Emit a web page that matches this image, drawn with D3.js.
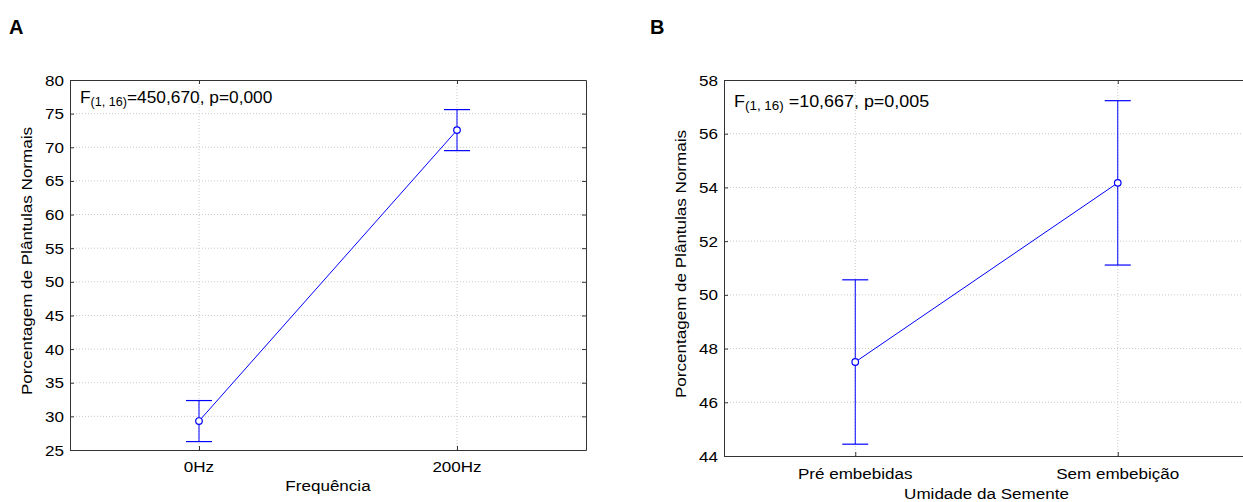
<!DOCTYPE html>
<html>
<head>
<meta charset="utf-8">
<script src="https://cdn.jsdelivr.net/npm/d3@7"></script>
<style>
  body { margin: 0; background: #fff; }
  svg { display: block; font-family: "Liberation Sans", Arial, sans-serif; }
</style>
</head>
<body>
<svg width="1243" height="502"></svg>
<script>
// panel A
const catsA = ["0Hz", "200Hz"];
const meanA = [29.3, 72.55];
const errA = [3.05, 3.05];
const yTicksA = [25, 30, 35, 40, 45, 50, 55, 60, 65, 70, 75, 80];

// panel B
const catsB = ["Pré embebidas", "Sem embebição"];
const meanB = [47.5, 54.17];
const errB = [3.06, 3.06];
const yTicksB = [44, 46, 48, 50, 52, 54, 56, 58];

const svg = d3.select("svg");
const SX = 1.1; // text in the source is a bit stretched sideways

function txt(g, x, y, s, size, anchor, rot) {
  return g.append("text")
    .attr("transform", `translate(${x},${y})` + (rot ? ` rotate(${rot})` : "") + ` scale(${SX},1)`)
    .attr("text-anchor", anchor || "start")
    .attr("font-size", size)
    .attr("fill", "#000")
    .text(s);
}

function panel(opt) {
  const { left, right, top, bottom, cats, mean, err, ticks } = opt;
  const g = svg.append("g");

  const x = d3.scalePoint().domain(cats).range([left, right]).padding(0.5);
  const y = d3.scaleLinear().domain([ticks[0], ticks[ticks.length - 1]]).range([bottom, top]);

  // grid
  g.selectAll(".hg").data(ticks.slice(1, -1)).enter().append("line")
    .attr("x1", left).attr("x2", right)
    .attr("y1", d => y(d)).attr("y2", d => y(d))
    .attr("stroke", "#c8c8c8").attr("stroke-dasharray", "1,2");
  g.selectAll(".vg").data(cats).enter().append("line")
    .attr("x1", d => x(d)).attr("x2", d => x(d))
    .attr("y1", top).attr("y2", bottom)
    .attr("stroke", "#c8c8c8").attr("stroke-dasharray", "1,2");

  // frame with inward ticks
  const ax = (axis, tr) => g.append("g").attr("transform", tr).call(axis)
    .call(s => s.selectAll("path,line").attr("stroke", "#333"))
    .call(s => s.selectAll("text").remove());
  ax(d3.axisLeft(y).tickValues(ticks).tickSize(-4).tickSizeOuter(0), `translate(${left},0)`);
  ax(d3.axisRight(y).tickValues(ticks).tickSize(-4).tickSizeOuter(0), `translate(${right},0)`);
  ax(d3.axisBottom(x).tickSize(-4).tickSizeOuter(0), `translate(0,${bottom})`);
  ax(d3.axisTop(x).tickSize(-4).tickSizeOuter(0), `translate(0,${top})`);

  // tick labels
  ticks.forEach(t => txt(g, left - 6, y(t) + 5.5, t, 15.5, "end"));
  cats.forEach(c => txt(g, x(c), bottom + opt.xlabDy, c, 15.5, "middle"));

  // axis titles
  txt(g, (left + right) / 2, bottom + opt.xtitleDy, opt.xtitle, 15.5, "middle");
  txt(g, opt.ytitleX, opt.ytitleY, "Porcentagem de Plântulas Normais", 15.5, "middle", -90);

  // error bars
  const blue = "#0000ff";
  const eb = g.selectAll(".eb").data(cats).enter().append("g");
  eb.append("line")
    .attr("x1", d => x(d)).attr("x2", d => x(d))
    .attr("y1", (d, i) => y(mean[i] - err[i])).attr("y2", (d, i) => y(mean[i] + err[i]))
    .attr("stroke", blue);
  [-1, 1].forEach(k => eb.append("line")
    .attr("x1", d => x(d) - 13).attr("x2", d => x(d) + 13)
    .attr("y1", (d, i) => y(mean[i] + k * err[i])).attr("y2", (d, i) => y(mean[i] + k * err[i]))
    .attr("stroke", blue).attr("stroke-width", 1.2));

  g.append("path")
    .datum(cats)
    .attr("d", d3.line().x(d => x(d)).y((d, i) => y(mean[i])))
    .attr("fill", "none").attr("stroke", blue);

  g.selectAll(".pt").data(cats).enter().append("circle")
    .attr("cx", d => x(d)).attr("cy", (d, i) => y(mean[i]))
    .attr("r", 3.3).attr("fill", "#fff").attr("stroke", blue).attr("stroke-width", 1.2);

  // F statistic
  const ann = g.append("text")
    .attr("transform", `translate(${left + 10},${opt.annY}) scale(${opt.annSX},1)`)
    .attr("font-size", opt.annSize);
  ann.append("tspan").text("F");
  ann.append("tspan").attr("font-size", 12).attr("dy", 3).text("(1, 16)");
  ann.append("tspan").attr("dy", -3).text(opt.ann);

  // panel letter
  svg.append("text").attr("x", opt.letterX).attr("y", 34)
    .attr("font-size", 20).attr("font-weight", "bold").text(opt.letter);
}

panel({
  left: 70, right: 586, top: 80, bottom: 450,
  cats: catsA, mean: meanA, err: errA, ticks: yTicksA,
  xlabDy: 22, xtitleDy: 41, xtitle: "Frequência",
  ytitleX: 32, ytitleY: 261,
  annY: 103, annSize: 16.5, annSX: 1.05, ann: "=450,670, p=0,000",
  letter: "A", letterX: 9
});

panel({
  left: 724, right: 1249, top: 80, bottom: 456,
  cats: catsB, mean: meanB, err: errB, ticks: yTicksB,
  xlabDy: 23, xtitleDy: 43, xtitle: "Umidade da Semente",
  ytitleX: 686, ytitleY: 264,
  annY: 107, annSize: 16, annSX: 1.12, ann: " =10,667, p=0,005",
  letter: "B", letterX: 650
});
</script>
</body>
</html>
